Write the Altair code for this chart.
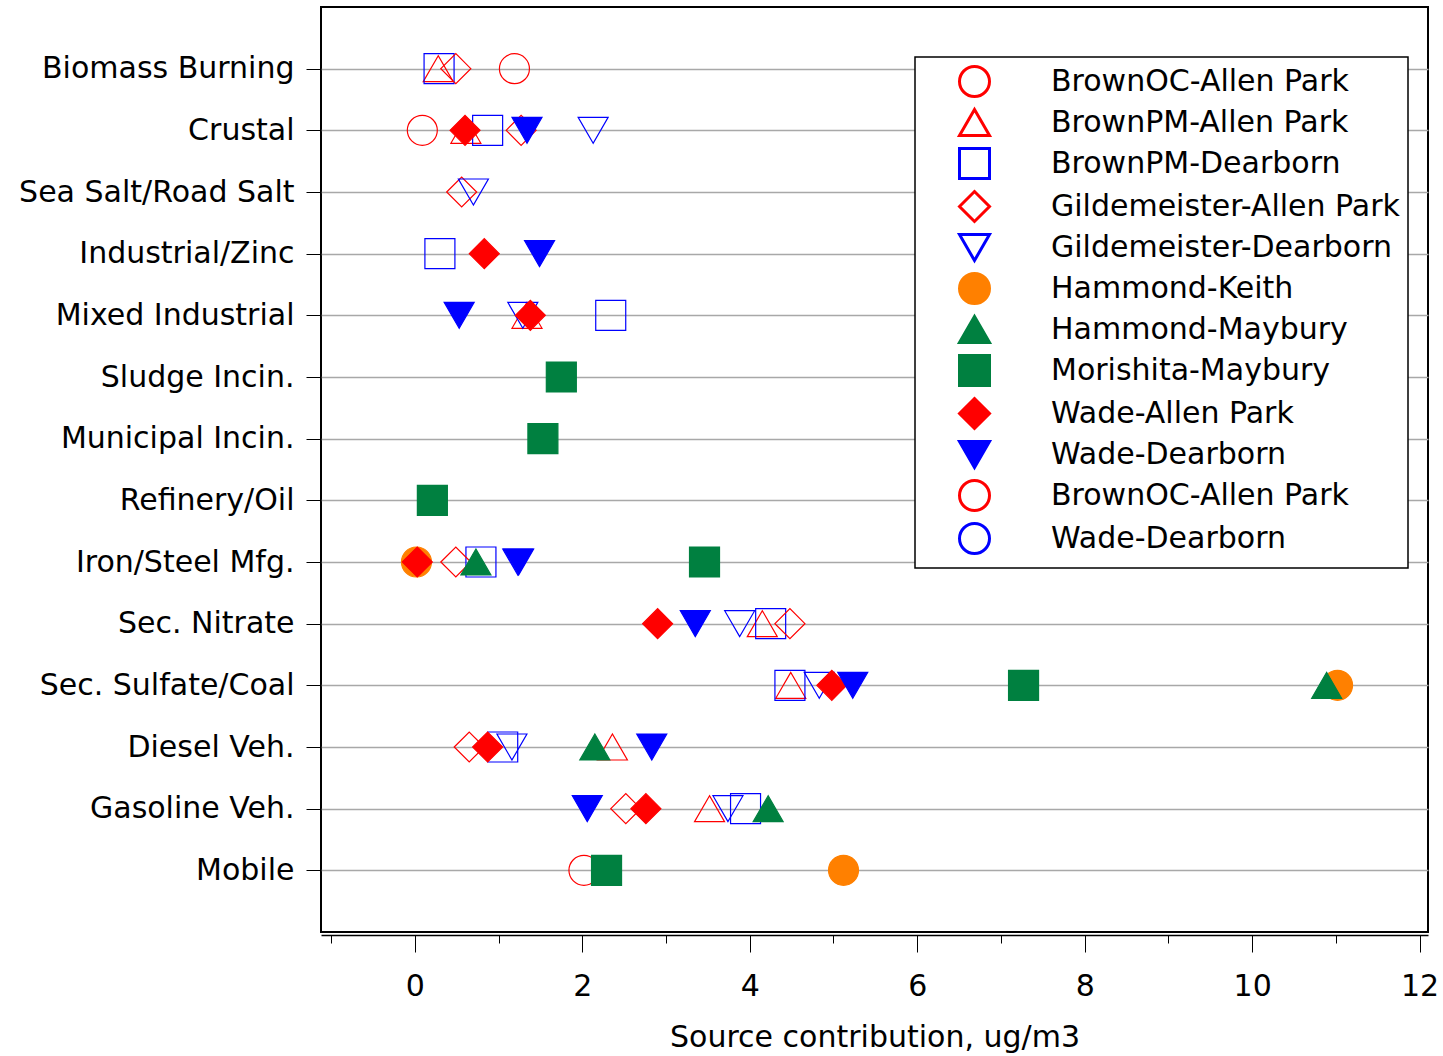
import altair as alt
import pandas as pd

sources = [
    "Biomass Burning", "Crustal", "Sea Salt/Road Salt", "Industrial/Zinc",
    "Mixed Industrial", "Sludge Incin.", "Municipal Incin.", "Refinery/Oil",
    "Iron/Steel Mfg.", "Sec. Nitrate", "Sec. Sulfate/Coal", "Diesel Veh.",
    "Gasoline Veh.", "Mobile",
]

# legend keys (last two are repeated legend labels without data)
series_keys = [
    "BrownOC-Allen Park", "BrownPM-Allen Park", "BrownPM-Dearborn",
    "Gildemeister-Allen Park", "Gildemeister-Dearborn", "Hammond-Keith",
    "Hammond-Maybury", "Morishita-Maybury", "Wade-Allen Park", "Wade-Dearborn",
    "BrownOC-Allen Park (2)", "Wade-Dearborn (2)",
]
series_shapes = ["circle", "triangle-up", "square", "diamond", "triangle-down",
                 "circle", "triangle-up", "square", "diamond", "triangle-down",
                 "circle", "circle"]
series_strokes = ["#ff0000", "#ff0000", "#0000ff", "#ff0000", "#0000ff",
                  "#ff8000", "#008040", "#008040", "#ff0000", "#0000ff",
                  "#ff0000", "#0000ff"]
series_fills = ["transparent", "transparent", "transparent", "transparent", "transparent",
                "#ff8000", "#008040", "#008040", "#ff0000", "#0000ff",
                "transparent", "transparent"]

# values per series, aligned with `sources` (None = not reported)
brownoc_allen = [1.19, 0.09, None, None, None, None, None, None, None, None, None, None, None, 2.02]
brownpm_allen = [0.28, 0.61, None, None, 1.34, None, None, None, None, 4.15, 4.49, 2.36, 3.52, None]
brownpm_dear = [0.29, 0.87, None, 0.30, 2.34, None, None, None, 0.79, 4.25, 4.48, 1.05, 3.95, None]
gild_allen = [0.49, 1.27, 0.56, None, None, None, None, None, 0.49, 4.48, None, 0.65, 2.52, None]
gild_dear = [None, 2.13, 0.70, None, 1.29, None, None, None, 1.23, 3.88, 4.83, 1.16, 3.74, None]
hammond_keith = [None, None, None, None, None, None, None, None, 0.02, None, 11.02, None, None, 5.12]
hammond_may = [None, None, None, None, None, None, None, None, 0.73, None, 10.89, 2.15, 4.22, None]
morishita_may = [None, None, None, None, None, 1.75, 1.53, 0.21, 3.46, None, 7.27, None, None, 2.29]
wade_allen = [None, 0.60, None, 0.83, 1.38, None, None, None, 0.03, 2.90, 4.98, 0.87, 2.76, None]
wade_dear = [None, 1.34, None, 1.49, 0.53, None, None, None, 1.24, 3.35, 5.23, 2.83, 2.06, None]

series_values = [brownoc_allen, brownpm_allen, brownpm_dear, gild_allen, gild_dear,
                 hammond_keith, hammond_may, morishita_may, wade_allen, wade_dear]

rows = []
for i, (key, vals) in enumerate(zip(series_keys, series_values)):
    for src, v in zip(sources, vals):
        if v is not None:
            rows.append({"series": key, "source": src, "value": v, "order": i})
df = pd.DataFrame(rows)

FONT = "DejaVu Sans"
FS = 30

legend = alt.Legend(
    title=None, orient="none", legendX=594, legendY=50,
    fillColor="white", strokeColor="black",
    padding=8, rowPadding=0, symbolSize=900, symbolStrokeWidth=3,
    symbolOffset=35, labelOffset=60, labelFont=FONT, labelFontSize=FS,
    labelColor="black", labelLimit=600,
    labelExpr="replace(datum.label, ' (2)', '')",
)

xscale = alt.Scale(domain=[-1.12, 12.1], nice=False, zero=False)

points = alt.Chart(df).mark_point(size=900, strokeWidth=1.2, opacity=1).encode(
    x=alt.X("value:Q", scale=xscale,
            axis=alt.Axis(values=[0, 2, 4, 6, 8, 10, 12], tickSize=17, tickColor="black",
                          tickWidth=1, domainColor="black", domainWidth=1.5, offset=3,
                          labelFont=FONT, labelFontSize=FS, labelColor="black",
                          labelPadding=19, grid=False, orient="bottom",
                          title="Source contribution, ug/m3", titleFont=FONT,
                          titleFontSize=FS, titleFontWeight="normal", titleColor="black",
                          titlePadding=21)),
    y=alt.Y("source:N", sort=sources, scale=alt.Scale(type="point", padding=1, domain=sources),
            axis=alt.Axis(domain=False, tickSize=15, tickColor="black", tickWidth=1,
                          labelFont=FONT, labelFontSize=FS, labelColor="black",
                          labelPadding=12, labelLimit=400, grid=True, gridColor="#a8a8a8",
                          gridWidth=1.5, title=None)),
    shape=alt.Shape("series:N", scale=alt.Scale(domain=series_keys, range=series_shapes), legend=legend),
    stroke=alt.Stroke("series:N", scale=alt.Scale(domain=series_keys, range=series_strokes), legend=legend),
    fill=alt.Fill("series:N", scale=alt.Scale(domain=series_keys, range=series_fills), legend=legend),
    order=alt.Order("order:Q"),
)

minor = alt.Chart(df).mark_point(opacity=0).encode(
    x=alt.X("value:Q", scale=xscale,
            axis=alt.Axis(values=[-1, 1, 3, 5, 7, 9, 11], tickSize=8, tickColor="black",
                          tickWidth=1, domain=False, labels=False, offset=3, grid=False,
                          orient="bottom", title=None)),
)

chart = alt.layer(points, minor).resolve_axis(x="independent").properties(
    width=1107, height=925, background="white",
    autosize=alt.AutoSizeParams(type="none"),
    padding={"left": 321, "top": 7, "right": 15, "bottom": 124},
).configure_view(stroke="black", strokeWidth=2).configure_legend(strokeWidth=1.5)

chart.save("out.html", embed_options={"renderer": "svg", "actions": False})
